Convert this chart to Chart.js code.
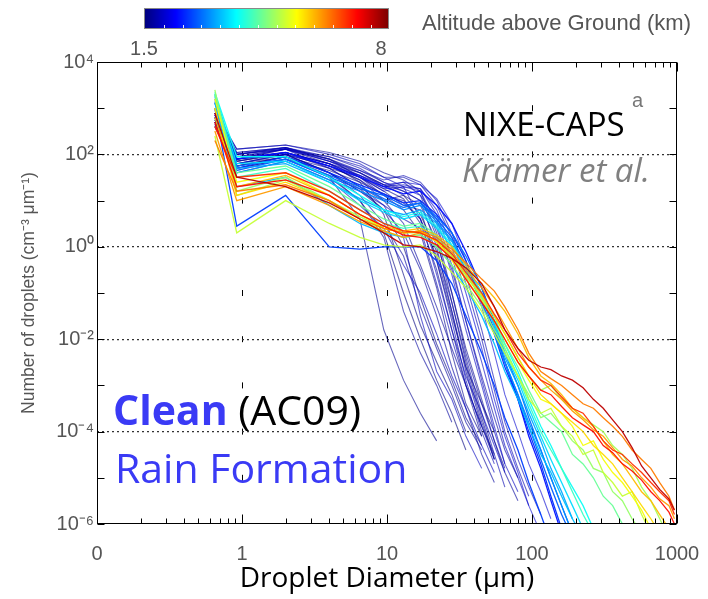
<!DOCTYPE html>
<html><head><meta charset="utf-8">
<script src="https://cdn.jsdelivr.net/npm/chart.js@4/dist/chart.umd.min.js"></script>
<style>html,body{margin:0;padding:0;background:#fff;}#wrap{position:relative;width:708px;height:599px;}</style>
</head><body><div id="wrap"><canvas id="c" width="708" height="599"></canvas></div>
<script>
// Droplet diameter bins (µm)
const diameters = [0.65, 0.92, 2.0, 4.0, 6.5, 9.5, 13, 17, 22, 28, 35, 45, 55, 65, 80, 95, 115, 135, 160, 190, 225, 265, 310, 360, 420, 490, 570, 660, 760, 880, 960];
const xTickValues = [0.1, 1, 10, 100, 1000];
const xTickLabels = ['0', '1', '10', '100', '1000'];
const xMinorTicks = [0.2,0.3,0.4,0.5,0.6,0.7,0.8,0.9,2,3,4,5,6,7,8,9,20,30,40,50,60,70,80,90,200,300,400,500,600,700,800,900];
const yTickValues = [1e-6,1e-5,1e-4,1e-3,1e-2,1e-1,1,1e1,1e2,1e3,1e4];
const yTickLabels = ['10⁻⁶','','10⁻⁴','','10⁻²','','10⁰','','10²','','10⁴'];
const altitudeRange = [1.5, 8];
const colorbarLabels = ['1.5', '8'];

// Size distributions (cm^-3 µm^-1), low altitude (dark blue)
const d1 = [7.9e2,1.0e2,1.4e2,7.9e1,3.2e1,1.6e1,7.9,6.3,5.0e-1,3.2e-2,2.5e-3,4.0e-4,1.0e-4];
const d2 = [5.0e2,6.3e1,1.0e2,4.0e1,1.6e1,7.9,4.0,2.5,1.6e-1,1.0e-2,1.0e-3,1.3e-4];
const d3 = [6.3e2,7.9e1,1.3e2,6.3e1,2.5e1,5.0,2.5e-1,2.0e-2,3.2e-3,6.3e-4,1.0e-4];
const d4 = [4.0e2,5.0e1,7.9e1,3.2e1,1.0e1,1.6,4.0e-2,5.0e-3,1.0e-3,1.6e-4];
const d5 = [7.9e2,1.3e2,1.6e2,1.0e2,6.3e1,3.2e1,2.0e1,4.0,2.5e-1,1.6e-2,1.6e-3,2.5e-4,5.0e-5,1.3e-5];
const d6 = [5.6e2,7.1e1,1.1e2,5.0e1,2.0e1,1.0e1,1.3e1,7.9,1.3,1.0e-1,6.3e-3,5.0e-4,6.3e-5,1.6e-5];
const d7 = [7.1e2,8.9e1,1.3e2,7.1e1,4.0e1,2.0e1,2.5e1,1.3e1,1.6,6.3e-2,4.0e-3,2.5e-4,3.2e-5,6.3e-6];
const d8 = [5.0e2,6.3e1,1.0e2,4.0e1,1.3e1,3.2,6.3e-1,5.0e-2,6.3e-3,1.0e-3,1.6e-4,4.0e-5];
const d9 = [4.5e2,5.6e1,8.9e1,3.5e1,1.0e1,2.0,1.0e-1,1.0e-2,1.3e-3,2.5e-4,4.0e-5];
const d10 = [7.9e2,1.1e2,1.4e2,8.9e1,5.0e1,2.5e1,1.6e1,1.0e1,1.0,4.0e-2,2.5e-3,1.6e-4,2.5e-5];
const d11 = [6.3e2,7.9e1,1.1e2,5.6e1,2.8e1,1.3e1,6.3,2.0,1.3e-1,5.0e-3,4.0e-4,7.9e-5];
const d12 = [4.0e2,4.0e1,7.1e1,2.8e1,7.9,2.5,4.0e-1,1.0e-1,1.3e-2,1.6e-3,3.2e-4,5.0e-5,1.3e-5];
const d13 = [5.6e2,6.3e1,1.0e2,5.6e1,3.5e1,1.8e1,2.0e1,1.6e1,3.2,2.5e-1,1.6e-2,1.0e-3,1.0e-4,2.0e-5,5.0e-6];
const d14 = [7.1e2,1.0e2,1.3e2,7.9e1,4.0e1,2.2e1,1.6e1,1.0e1,2.5,3.2e-1,2.5e-2,1.6e-3,2.0e-4,4.0e-5,1.0e-5];
const d15 = [5.0e2,7.1e1,1.0e2,4.0e1,1.6e1,6.3,2.0,3.2e-1,3.2e-2,2.5e-3,3.2e-4,3.2e-5,7.9e-6];
const d16 = [6.3e2,8.9e1,1.1e2,6.3e1,3.2e1,1.3e1,1.0e1,4.0,5.0e-1,2.5e-2,1.3e-3,1.0e-4,2.0e-5];
const d17 = [7.9e2,1.0e2,1.4e2,7.1e1,3.5e1,2.0e1,2.2e1,1.8e1,5.0,6.3e-1,5.0e-2,3.2e-3,3.2e-4,5.0e-5,1.0e-5,2.5e-6];
const d18 = [6.3e2,7.9e1,1.1e2,6.3e1,3.2e1,1.6e1,2.0e1,1.8e1,6.3,1.0,1.0e-1,6.3e-3,5.0e-4,7.9e-5,1.3e-5,2.5e-6,6.3e-7];
const d19 = [5.0e2,5.6e1,8.9e1,3.2e1,4.0,1.6e-2,1.3e-3,2.5e-4,6.3e-5];
const d20 = [7.1e2,7.9e1,1.3e2,5.0e1,2.0e1,7.9,1.6,3.2e-2,2.0e-3,5.0e-4,7.9e-5,1.6e-5];
const d21 = [8.9e2,1.3e2,1.6e2,1.1e2,7.1e1,4.0e1,2.8e1,1.6e1,2.0,1.0e-1,5.0e-3,4.0e-4,6.3e-5,1.3e-5,3.2e-6];
const d22 = [5.0e2,7.1e1,1.1e2,6.3e1,4.0e1,2.2e1,1.3e1,5.0,7.9e-1,6.3e-2,3.2e-3,2.0e-4,2.5e-5];
const d23 = [6.3e2,1.0e2,1.3e2,8.9e1,5.6e1,3.2e1,3.2e1,2.2e1,7.9,1.6,1.6e-1,1.0e-2,7.9e-4,1.0e-4,1.6e-5,4.0e-6];
const d24 = [4.0e2,5.0e1,7.9e1,4.5e1,2.5e1,1.4e1,8.9,4.0,6.3e-1,4.0e-2,2.0e-3,1.3e-4,3.2e-5];
const d25 = [7.9e2,1.1e2,1.4e2,7.9e1,4.5e1,2.8e1,3.5e1,2.5e1,1.0e1,2.0,2.5e-1,1.6e-2,1.3e-3,1.6e-4,2.5e-5,6.3e-6,1.6e-6];
const d26 = [5.6e2,7.9e1,1.0e2,5.6e1,2.8e1,1.0e1,3.2,4.0e-1,5.0e-2,6.3e-3,1.0e-3,1.3e-4,2.5e-5];
const d27 = [7.1e2,8.9e1,1.3e2,7.1e1,4.5e1,2.5e1,1.8e1,1.3e1,4.0,4.0e-1,2.5e-2,1.3e-3,1.3e-4,2.0e-5];
const d28 = [5.0e2,6.3e1,8.9e1,5.0e1,3.2e1,1.8e1,1.1e1,3.2,3.2e-1,1.6e-2,1.0e-3,7.9e-5];
const d29 = [6.3e2,7.9e1,1.1e2,6.3e1,3.5e1,2.2e1,2.5e1,2.2e1,1.1e1,3.2,5.0e-1,5.0e-2,5.0e-3,6.3e-4,1.0e-4,2.0e-5,5.0e-6,1.3e-6];
const d30 = [4.5e2,5.6e1,8.9e1,4.0e1,1.8e1,6.3,1.0,7.9e-2,7.9e-3,1.3e-3,2.0e-4,5.0e-5];
// mid altitude (blue, cyan)
const b1 = [1.0e3,5.0e1,8.9e1,4.0e1,2.2e1,1.4e1,8.9,1.0e1,5.0,2.0,5.0e-1,6.3e-2,1.3e-2,2.5e-3,5.0e-4,1.0e-4,2.0e-5,4.0e-6,7.9e-7];
const b2 = [1.3e3,4.5e1,7.9e1,3.2e1,1.8e1,1.3e1,7.9,8.9,4.0,1.6,4.0e-1,7.9e-2,1.6e-2,3.2e-3,6.3e-4,1.3e-4,2.5e-5,6.3e-6,1.6e-6,5.0e-7];
const b3 = [1.6e3,4.0e1,7.1e1,2.8e1,1.6e1,1.0e1,6.3,7.9,3.5,1.4,3.2e-1,6.3e-2,1.3e-2,3.2e-3,6.3e-4,1.6e-4,4.0e-5,1.0e-5,2.5e-6,6.3e-7];
const b4 = [1.0e3,2.8,1.3e1,1.0,8.9e-1,1.0,1.0,1.0,5.0e-1,1.6e-1,3.2e-2,5.0e-3,1.0e-3,2.0e-4,4.0e-5,7.9e-6,1.6e-6,4.0e-7];
const b5 = [7.9e2,7.9e1,1.1e2,5.6e1,3.2e1,2.0e1,1.4e1,1.6e1,7.9,3.2,7.9e-1,1.3e-1,2.0e-2,3.2e-3,5.0e-4,7.9e-5,1.6e-5,3.2e-6,6.3e-7];
const b6 = [1.4e3,5.6e1,7.9e1,3.5e1,2.0e1,1.1e1,7.1,8.9,4.5,2.0,6.3e-1,1.3e-1,2.5e-2,5.0e-3,1.0e-3,2.0e-4,4.0e-5,1.0e-5,2.5e-6,6.3e-7];
const c1 = [2.0e3,6.3e1,7.1e1,2.5e1,1.0e1,5.6,4.0,5.0,2.5,1.0,3.2e-1,7.9e-2,2.0e-2,5.0e-3,1.3e-3,3.2e-4,7.9e-5,2.5e-5,7.9e-6,2.5e-6,7.9e-7];
const c2 = [2.2e3,8.9e1,8.9e1,3.2e1,1.3e1,6.3,4.5,5.6,2.8,1.1,4.0e-1,1.0e-1,3.2e-2,7.9e-3,2.0e-3,5.0e-4,1.3e-4,5.0e-5,1.6e-5,6.3e-6,2.5e-6,7.9e-7];
const c3 = [2.0e3,3.2e1,5.0e1,1.6e1,6.3,3.2,2.5,2.8,1.6,6.3e-1,2.5e-1,7.9e-2,2.5e-2,6.3e-3,1.6e-3,4.0e-4,1.0e-4,4.0e-5,1.6e-5,5.0e-6,1.6e-6,6.3e-7];
const c4 = [1.3e3,2.0e1,3.2e1,7.9,3.2,2.0,1.6,1.8,1.0,4.0e-1,1.3e-1,3.2e-2,7.9e-3,2.0e-3,5.0e-4,1.3e-4,3.2e-5,1.3e-5,4.0e-6,1.3e-6,5.0e-7];
const c5 = [1.8e3,5.0e1,6.3e1,2.5e1,1.1e1,6.3,5.0,6.3,3.2,1.3,4.0e-1,1.0e-1,2.0e-2,4.0e-3,1.0e-3,2.5e-4,6.3e-5,1.6e-5,5.0e-6,1.3e-6];
// higher altitude (green, yellow, orange, red)
const g1 = [2.5e3,1.6e1,3.2e1,1.0e1,4.0,2.2,1.6,1.8,1.0,4.0e-1,1.6e-1,5.0e-2,1.6e-2,6.3e-3,1.6e-3,6.3e-4,2.0e-4,2.5e-4,1.3e-4,6.3e-5,4.0e-5,1.6e-5,1.3e-5,5.0e-6,3.2e-6,1.3e-6,6.3e-7];
const g2 = [2.5e2,2.0,1.0e1,3.2,1.6,1.1,1.0,1.1,6.3e-1,2.8e-1,1.3e-1,4.0e-2,1.3e-2,5.0e-3,1.6e-3,5.0e-4,2.5e-4,3.2e-4,1.3e-4,7.9e-5,3.2e-5,4.0e-5,1.3e-5,7.9e-6,4.0e-6,5.0e-6,1.6e-6,6.3e-7];
const g3 = [1.6e3,2.5e1,4.0e1,1.3e1,5.0,2.5,2.0,2.2,1.3,5.0e-1,2.0e-1,7.1e-2,2.5e-2,1.0e-2,3.2e-3,1.3e-3,5.0e-4,4.0e-4,2.5e-4,1.3e-4,5.0e-5,6.3e-5,2.5e-5,1.3e-5,7.9e-6,4.0e-6,2.0e-6,7.9e-7];
const g4 = [2.0e3,4.0e1,5.6e1,2.0e1,7.9,4.0,2.8,3.2,1.8,7.1e-1,2.5e-1,7.9e-2,2.5e-2,7.9e-3,2.5e-3,7.9e-4,2.5e-4,1.6e-4,1.0e-4,3.2e-5,2.0e-5,1.0e-5,4.0e-6,2.5e-6,1.0e-6,5.0e-7];
const g5 = [1.0e3,1.3e1,2.8e1,1.0e1,4.5,2.5,2.0,2.0,1.3,5.6e-1,2.2e-1,8.9e-2,3.2e-2,1.3e-2,4.0e-3,1.6e-3,7.9e-4,1.0e-3,5.0e-4,3.2e-4,2.0e-4,1.4e-4,1.0e-4,5.0e-5,3.2e-5,1.6e-5,6.3e-6,3.2e-6,1.3e-6,5.0e-7];
const y1 = [6.3e2,2.0e1,3.5e1,1.3e1,5.0,2.8,2.2,2.5,1.8,1.0,4.0e-1,1.6e-1,7.9e-2,4.0e-2,1.3e-2,4.0e-3,1.6e-3,1.1e-3,6.3e-4,3.2e-4,2.0e-4,1.3e-4,6.3e-5,3.2e-5,2.0e-5,1.0e-5,5.0e-6,3.2e-6,1.6e-6,7.9e-7];
const y2 = [3.2e2,1.0e1,2.0e1,7.9,3.5,2.2,1.6,2.0,1.4,7.9e-1,3.2e-1,1.3e-1,5.0e-2,2.0e-2,6.3e-3,2.5e-3,1.3e-3,7.9e-4,5.0e-4,2.8e-4,1.8e-4,1.1e-4,7.9e-5,4.5e-5,2.5e-5,1.8e-5,1.0e-5,6.3e-6,3.5e-6,2.5e-6,1.3e-6];
const y3 = [1.0e3,1.3e1,2.5e1,1.0e1,4.0,2.5,2.0,2.2,1.3,6.3e-1,2.5e-1,8.9e-2,3.2e-2,1.3e-2,4.0e-3,1.6e-3,6.3e-4,4.0e-4,2.5e-4,1.6e-4,1.0e-4,5.0e-5,3.2e-5,2.0e-5,1.0e-5,5.0e-6,2.5e-6,1.3e-6,6.3e-7];
const y4 = [2.0e2,1.6e1,2.2e1,1.0e1,4.0,2.5,2.0,2.2,1.6,8.9e-1,4.5e-1,2.0e-1,1.1e-1,5.0e-2,1.6e-2,5.0e-3,2.0e-3,1.4e-3,1.0e-3,6.3e-4,4.0e-4,3.2e-4,2.0e-4,1.3e-4,7.9e-5,4.0e-5,2.5e-5,1.6e-5,7.9e-6,4.0e-6,2.0e-6];
const o1 = [4.0e2,3.2e1,4.0e1,1.6e1,6.3,3.2,2.2,2.0,1.4,7.1e-1,2.8e-1,1.0e-1,3.5e-2,1.6e-2,5.0e-3,2.5e-3,1.3e-3,1.0e-3,5.6e-4,3.2e-4,2.5e-4,1.3e-4,6.3e-5,4.0e-5,3.2e-5,2.0e-5,1.3e-5,7.9e-6,5.0e-6,3.2e-6,1.6e-6];
const o2 = [5.0e2,2.0e1,2.8e1,1.3e1,5.0,2.8,1.8,1.6,1.1,5.6e-1,2.0e-1,6.3e-2,2.5e-2,1.0e-2,3.2e-3,1.6e-3,7.9e-4,6.3e-4,3.5e-4,2.0e-4,1.4e-4,1.0e-4,5.0e-5,3.5e-5,2.0e-5,1.4e-5,8.9e-6,5.0e-6,3.2e-6,1.8e-6,1.0e-6];
const r1 = [7.9e2,3.2e1,2.0e1,8.9,4.0,2.0,1.1,1.0,7.9e-1,5.6e-1,3.5e-1,1.6e-1,5.0e-2,1.6e-2,6.3e-3,3.5e-3,2.5e-3,2.2e-3,1.6e-3,1.3e-3,8.9e-4,5.0e-4,3.2e-4,1.8e-4,1.0e-4,4.5e-5,1.8e-5,1.0e-5,5.6e-6,3.5e-6,2.0e-6];

// altitude (km) of each profile
const seriesList = [
  {alt:1.6, values:d1},{alt:1.8, values:d2},{alt:1.5, values:d3},{alt:1.7, values:d4},{alt:1.9, values:d5},
  {alt:1.6, values:d6},{alt:1.8, values:d7},{alt:1.7, values:d8},{alt:1.5, values:d9},{alt:1.8, values:d10},
  {alt:1.6, values:d11},{alt:1.9, values:d12},{alt:1.9, values:d13},{alt:1.7, values:d14},{alt:1.7, values:d15},
  {alt:1.8, values:d16},{alt:1.9, values:d17},{alt:2.0, values:d18},{alt:1.6, values:d19},{alt:1.9, values:d20},
  {alt:1.7, values:d21},{alt:1.5, values:d22},{alt:1.8, values:d23},{alt:1.6, values:d24},{alt:1.8, values:d25},
  {alt:1.7, values:d26},{alt:1.9, values:d27},{alt:1.6, values:d28},{alt:2.0, values:d29},{alt:1.5, values:d30},
  {alt:2.6, values:b1},{alt:2.9, values:b2},{alt:3.2, values:b3},{alt:2.7, values:b4},{alt:2.4, values:b5},{alt:3.0, values:b6},
  {alt:3.7, values:c1},{alt:4.0, values:c2},{alt:4.3, values:c3},{alt:3.5, values:c4},{alt:3.4, values:c5},
  {alt:4.9, values:g1},{alt:5.2, values:g2},{alt:5.5, values:g3},{alt:4.6, values:g4},{alt:5.0, values:g5},
  {alt:6.0, values:y1},{alt:6.2, values:y2},{alt:5.8, values:y3},{alt:6.4, values:y4},
  {alt:6.9, values:o1},{alt:7.1, values:o2},{alt:7.6, values:r1}
];

function clamp(v){ return Math.max(0, Math.min(1, v)); }
function jet(t){
  return [clamp(1.5-Math.abs(4*t-3))*255, clamp(1.5-Math.abs(4*t-2))*255, clamp(1.5-Math.abs(4*t-1))*255].map(Math.round);
}
function altColor(alt){
  const t = (alt-altitudeRange[0])/(altitudeRange[1]-altitudeRange[0]);
  const [r,g,b] = jet(t);
  const a = t < 0.12 ? 0.6 : 0.95;
  return `rgba(${r},${g},${b},${a})`;
}

const decor = {
  id:'decor',
  afterDatasetsDraw(chart){
    const {ctx, chartArea:a, scales:{x, y}} = chart;
    ctx.save();
    ctx.strokeStyle = '#000'; ctx.lineWidth = 1;
    const L = Math.round(a.left)+0.5, R = Math.round(a.right)-0.5, T = Math.round(a.top)+0.5, B = Math.round(a.bottom)-0.5;
    ctx.strokeRect(L, T, R-L, B-T);
    ctx.beginPath();
    yTickValues.forEach(v => {
      const p = Math.round(y.getPixelForValue(v))+0.5;
      ctx.moveTo(L, p); ctx.lineTo(L+7, p);
      ctx.moveTo(R, p); ctx.lineTo(R-7, p);
    });
    xTickValues.forEach(v => {
      const p = Math.round(x.getPixelForValue(v))+0.5;
      ctx.moveTo(p, B); ctx.lineTo(p, B-9);
      ctx.moveTo(p, T); ctx.lineTo(p, T+9);
    });
    xMinorTicks.forEach(v => {
      const p = Math.round(x.getPixelForValue(v))+0.5;
      ctx.moveTo(p, B); ctx.lineTo(p, B-5);
      ctx.moveTo(p, T); ctx.lineTo(p, T+5);
    });
    ctx.stroke();
    ctx.restore();
  },
  afterDraw(chart){
    const ctx = chart.ctx;
    ctx.save();
    // colorbar
    const x0 = 145, w = 243, y0 = 9, h = 19;
    for (let i = 0; i < w; i++) {
      const [r,g,b] = jet(i/(w-1));
      ctx.fillStyle = `rgb(${r},${g},${b})`;
      ctx.fillRect(x0+i, y0, 1, h);
    }
    ctx.strokeStyle = '#888'; ctx.lineWidth = 1;
    ctx.strokeRect(x0-0.5, y0-0.5, w+1, h+1);
    ctx.strokeStyle = 'rgba(255,255,255,0.9)';
    ctx.beginPath();
    for (let k = 1; k <= 12; k++) {
      const px = Math.round(x0 + 18.8*k) + 0.5;
      ctx.moveTo(px, y0+h); ctx.lineTo(px, y0+h-3);
    }
    ctx.stroke();
    ctx.fillStyle = '#555';
    ctx.font = '20px "Liberation Sans"';
    ctx.textBaseline = 'alphabetic';
    ctx.textAlign = 'center';
    ctx.fillText(colorbarLabels[0], 144, 55);
    ctx.fillText(colorbarLabels[1], 381, 55);
    ctx.textAlign = 'left';
    ctx.font = '22px "Liberation Sans"';
    ctx.fillText('Altitude above Ground (km)', 422, 30);
    // annotations
    ctx.fillStyle = '#000';
    ctx.font = '33px "Open Sans"';
    ctx.fillText('NIXE-CAPS', 463, 136);
    ctx.fillStyle = '#777';
    ctx.font = '20px "Liberation Sans"';
    ctx.fillText('a', 632, 107);
    ctx.fillStyle = '#808080';
    ctx.font = 'italic 33px "Open Sans"';
    ctx.fillText('Krämer et al.', 462, 182);
    ctx.fillStyle = '#3a3af5';
    ctx.font = 'bold 41px "Open Sans"';
    ctx.fillText('Clean', 113, 425);
    const cw = ctx.measureText('Clean ').width;
    ctx.fillStyle = '#000';
    ctx.font = '41px "Open Sans"';
    ctx.fillText('(AC09)', 113 + cw, 425);
    ctx.fillStyle = '#3a3af5';
    ctx.fillText('Rain Formation', 115, 483);
    ctx.restore();
  }
};

new Chart(document.getElementById('c'), {
  type: 'line',
  data: {
    datasets: seriesList.map(s => ({
      data: s.values.map((v, i) => ({x: diameters[i], y: v})),
      borderColor: altColor(s.alt),
      borderWidth: s.alt < 2.3 ? 1.1 : 1.3,
      pointRadius: 0,
      fill: false,
      tension: 0,
      order: Math.round((10 - s.alt) * 10)
    }))
  },
  options: {
    responsive: false,
    animation: false,
    devicePixelRatio: 1,
    layout: {padding: {left: 0, right: 31, top: 62, bottom: 0}},
    plugins: {legend: {display: false}, tooltip: {enabled: false}},
    scales: {
      x: {
        type: 'logarithmic', min: 0.1, max: 1000,
        afterBuildTicks: s => { s.ticks = xTickValues.map(v => ({value: v})); },
        afterFit: s => { s.height = 75; s.paddingLeft = 0; s.paddingRight = 0; },
        ticks: {autoSkip: false, maxRotation: 0, padding: 18, color: '#555',
          font: {family: 'Liberation Sans', size: 20}, callback: (v, i) => xTickLabels[i]},
        grid: {drawTicks: false, lineWidth: 1,
          color: c => (c.index >= 1 && c.index <= 3) ? '#000' : 'rgba(0,0,0,0)'},
        border: {display: false, dash: [6, 40.2], dashOffset: 3},
        title: {display: true, text: 'Droplet Diameter (µm)', color: '#000',
          font: {family: 'Open Sans', size: 28}, padding: {top: 0, bottom: 3}}
      },
      y: {
        type: 'logarithmic', min: 1e-6, max: 1e4,
        afterBuildTicks: s => { s.ticks = yTickValues.map(v => ({value: v})); },
        afterFit: s => { s.width = 97; },
        ticks: {autoSkip: false, padding: 3, color: '#555',
          font: {family: 'Liberation Sans', size: 20}, callback: (v, i) => yTickLabels[i]},
        grid: {drawTicks: false, lineWidth: 1.2,
          color: c => ([2, 4, 6, 8].includes(c.index)) ? '#333' : 'rgba(0,0,0,0)'},
        border: {display: false, dash: [2, 3]},
        title: {display: true, text: 'Number of droplets (cm⁻³ μm⁻¹)', color: '#555',
          font: {family: 'Liberation Sans', size: 17.5}, padding: {top: 19, bottom: 0}}
      }
    }
  },
  plugins: [decor]
});
</script>
</body></html>
